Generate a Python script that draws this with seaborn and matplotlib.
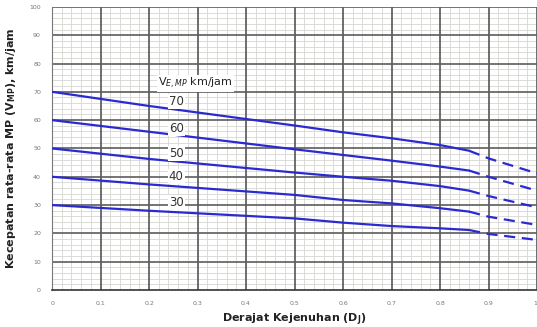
import matplotlib
matplotlib.use('Agg')
import matplotlib.pyplot as plt
import seaborn as sns
import pandas as pd
import numpy as np

# degree of saturation where curves were read
ds = [0, 0.2, 0.5, 0.6, 0.7, 0.8, 0.86, 0.9, 1.0]
n_solid = 7  # first 7 points solid, rest dashed

v70 = [70, 65.0, 58.1, 55.7, 53.6, 51.2, 49.2, 46.5, 41.2]
v60 = [60, 55.9, 49.7, 47.7, 45.7, 43.6, 42.2, 40.0, 35.1]
v50 = [50, 46.3, 41.5, 40.0, 38.6, 36.7, 35.1, 33.2, 29.2]
v40 = [40, 37.3, 33.6, 31.8, 30.6, 28.9, 27.7, 25.9, 23.0]
v30 = [30, 28.0, 25.3, 23.8, 22.6, 21.8, 21.2, 19.8, 17.7]

curves = {'70': v70, '60': v60, '50': v50, '40': v40, '30': v30}
label_y = {'70': 66.6, '60': 57.0, '50': 48.2, '40': 40.0, '30': 31.0}

x_ticks = [0, 0.1, 0.2, 0.3, 0.4, 0.5, 0.6, 0.7, 0.8, 0.9, 1]
x_ticklabels = ['0', '0.1', '0.2', '0.3', '0.4', '0.5', '0.6', '0.7', '0.8', '0.9', '1']
y_ticks = [0, 10, 20, 30, 40, 50, 60, 70, 80, 90, 100]

sns.set_style('white')
fig = plt.figure(figsize=(5.37, 3.27), dpi=100)
ax = fig.add_axes([0.097, 0.113, 0.903, 0.866])

# minor grid from the axis, major grid drawn on top of it
ax.set_xticks(np.arange(0, 1.001, 0.02), minor=True)
ax.set_yticks(np.arange(0, 100.1, 2), minor=True)
ax.grid(which='minor', color='#d6d6d2', linewidth=0.6)
ax.grid(which='major', visible=False)
ax.set_axisbelow(True)
for xv in x_ticks[1:]:
    ax.axvline(xv, color='#555555', linewidth=1.2, zorder=1)
for yv in y_ticks[1:]:
    ax.axhline(yv, color='#5c5c5c', linewidth=1.2, zorder=1)

line_col = '#2a2ad0'
for name, vals in curves.items():
    solid = pd.DataFrame({'D': ds[:n_solid], 'V': vals[:n_solid]})
    dash = pd.DataFrame({'D': ds[n_solid - 1:], 'V': vals[n_solid - 1:]})
    sns.lineplot(data=solid, x='D', y='V', ax=ax, color=line_col,
                 linewidth=1.6, sort=False, estimator=None, zorder=4)
    sns.lineplot(data=dash, x='D', y='V', ax=ax, color=line_col,
                 linewidth=1.6, sort=False, estimator=None, zorder=4)
    ax.lines[-1].set_dashes((5, 3))
    ax.text(0.256, label_y[name], name, fontsize=8.5, color='#333333',
            ha='center', va='center', zorder=5,
            bbox=dict(facecolor='white', edgecolor='none', pad=0.8))

ax.text(0.295, 73.0, 'V$_{E,MP}$ km/jam', fontsize=8, color='#222222',
        ha='center', va='center', zorder=5,
        bbox=dict(facecolor='white', edgecolor='none', pad=0.8))

ax.set_xlim(0, 1)
ax.set_ylim(0, 100)
ax.set_xticks(x_ticks)
ax.set_xticklabels(x_ticklabels)
ax.set_yticks(y_ticks)
ax.get_xticklabels()[-1].set_ha('right')

ax.tick_params(axis='both', which='major', labelsize=4.5, labelcolor='#777777',
               length=3, color='#555555', pad=5)
ax.tick_params(axis='y', which='minor', length=1.5, color='#555555')
ax.tick_params(axis='x', which='minor', length=0)
for s in ['top', 'right']:
    ax.spines[s].set_visible(False)
ax.spines['left'].set_color('#777777')
ax.spines['bottom'].set_color('#333333')
ax.spines['bottom'].set_linewidth(1.2)

ax.set_xlabel('Derajat Kejenuhan (D$_\\mathbf{J}$)', fontsize=8,
              fontweight='bold', color='#222222', labelpad=4)
ax.set_ylabel('Kecepatan rata-rata MP (V$_\\mathbf{MP}$), km/jam', fontsize=8,
              fontweight='bold', color='#222222', labelpad=8)

fig.savefig('out.png', dpi=100)
